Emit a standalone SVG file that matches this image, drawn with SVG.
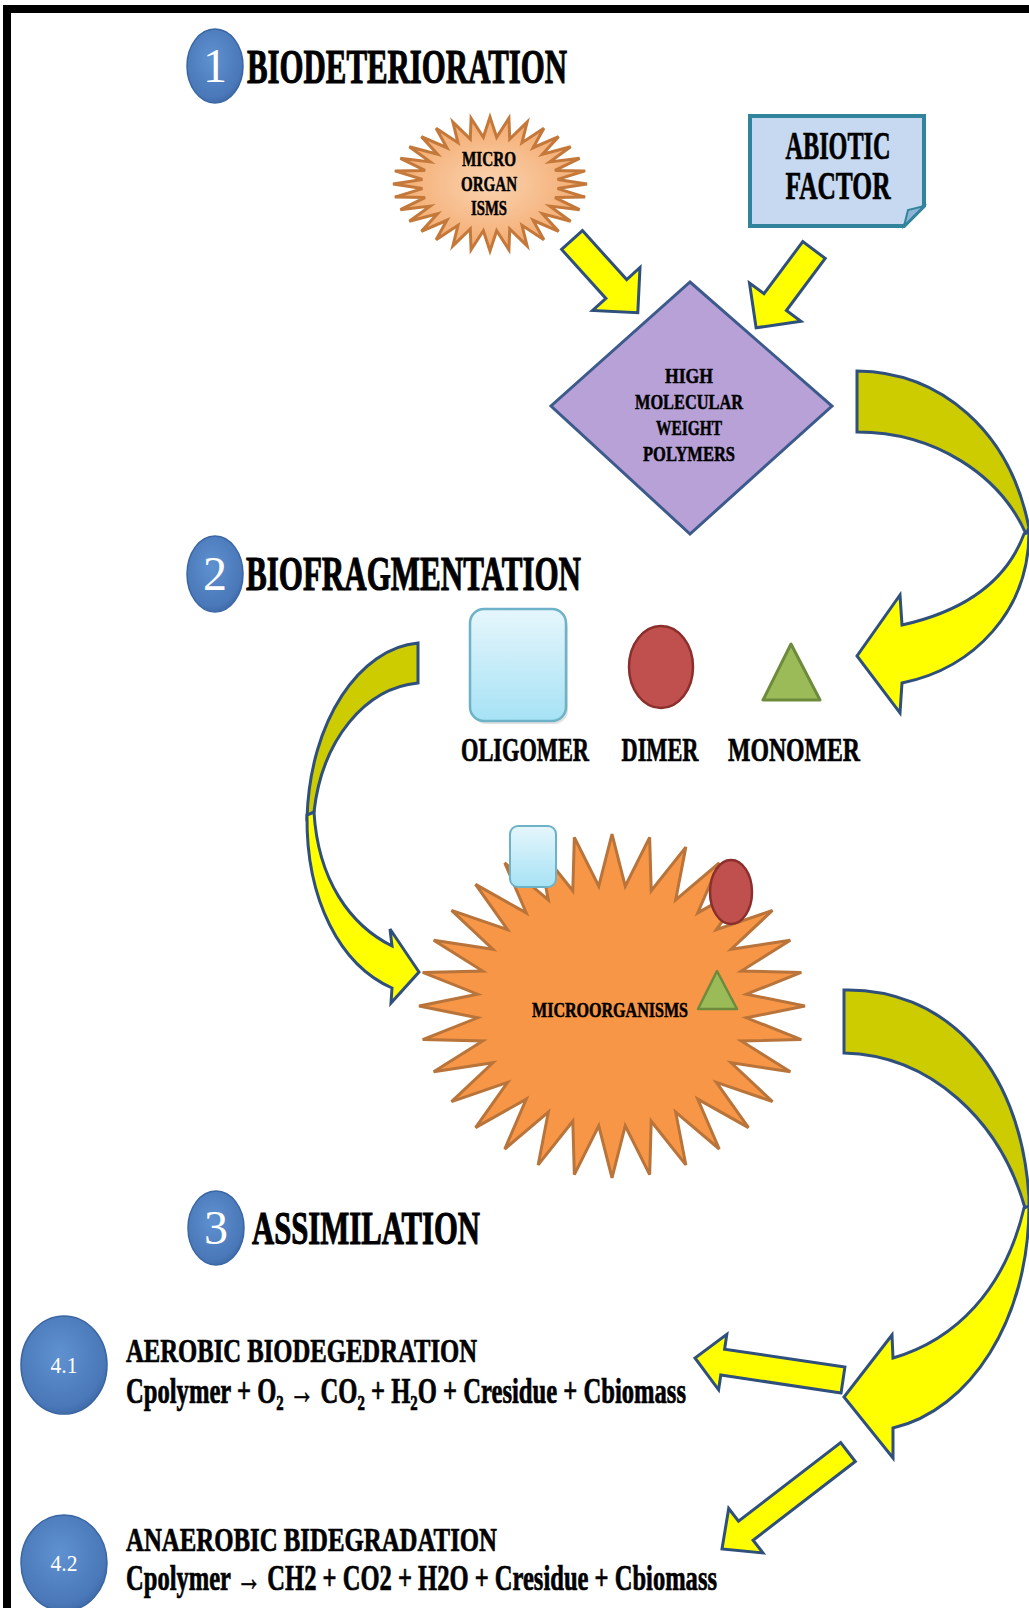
<svg xmlns="http://www.w3.org/2000/svg" xmlns:xlink="http://www.w3.org/1999/xlink" width="1029" height="1608" viewBox="0 0 1029 1608">
<style>
.t{font-family:"Liberation Serif","Times New Roman","DejaVu Serif",serif;font-weight:bold;fill:#000;stroke:#000;stroke-width:0.7}
.h{stroke-width:1.1}
.s{stroke-width:0.5}
.n{font-family:"Liberation Serif","Times New Roman",serif;fill:#fff}
.ya{fill:#ffff00;stroke:#2f4f7d;stroke-width:3;stroke-linejoin:miter}
.yd{fill:#cccc00;stroke:#2f4f7d;stroke-width:3;stroke-linejoin:miter}
.num{fill:url(#gBlue);stroke:#3a66a3;stroke-width:1.5}
</style>
<defs>
<radialGradient id="gBlue" cx="45%" cy="40%" r="65%">
<stop offset="0" stop-color="#5f91d0"/>
<stop offset="0.8" stop-color="#4a78b8"/>
<stop offset="1" stop-color="#3c66a5"/>
</radialGradient>
<radialGradient id="gPeach" cx="50%" cy="50%" r="55%">
<stop offset="0" stop-color="#fbd3b0"/>
<stop offset="1" stop-color="#f2a668"/>
</radialGradient>
<linearGradient id="gOlig" x1="0" y1="0" x2="0" y2="1">
<stop offset="0" stop-color="#e6f6fc"/>
<stop offset="1" stop-color="#a6e2f5"/>
</linearGradient>
<polygon id="star32" vector-effect="non-scaling-stroke" points="100,0 69.66,6.86 98.08,19.51 66.99,20.32 92.39,38.27 61.73,33 83.15,55.56 54.11,44.41 70.71,70.71 44.41,54.11 55.56,83.15 33,61.73 38.27,92.39 20.32,66.99 19.51,98.08 6.86,69.66 0,100 -6.86,69.66 -19.51,98.08 -20.32,66.99 -38.27,92.39 -33,61.73 -55.56,83.15 -44.41,54.11 -70.71,70.71 -54.11,44.41 -83.15,55.56 -61.73,33 -92.39,38.27 -66.99,20.32 -98.08,19.51 -69.66,6.86 -100,0 -69.66,-6.86 -98.08,-19.51 -66.99,-20.32 -92.39,-38.27 -61.73,-33 -83.15,-55.56 -54.11,-44.41 -70.71,-70.71 -44.41,-54.11 -55.56,-83.15 -33,-61.73 -38.27,-92.39 -20.32,-66.99 -19.51,-98.08 -6.86,-69.66 0,-100 6.86,-69.66 19.51,-98.08 20.32,-66.99 38.27,-92.39 33,-61.73 55.56,-83.15 44.41,-54.11 70.71,-70.71 54.11,-44.41 83.15,-55.56 61.73,-33 92.39,-38.27 66.99,-20.32 98.08,-19.51 69.66,-6.86"/>
</defs>
<rect x="0" y="0" width="1029" height="1608" fill="#fff"/>
<g id="border" fill="#000">
<rect x="3" y="5" width="1026" height="8"/>
<rect x="3" y="5" width="8" height="1603"/>
</g>

<g id="heading-1">
<ellipse class="num" cx="215" cy="66" rx="28" ry="37"/>
<text class="n" x="215" y="82" font-size="48" text-anchor="middle">1</text>
<text class="t h" x="247" y="83" font-size="48" textLength="320" lengthAdjust="spacingAndGlyphs">BIODETERIORATION</text>
</g>

<g id="microorganisms-top">
<use href="#star32" transform="translate(490,184) scale(0.97,0.67)" fill="url(#gPeach)" stroke="#c4783a" stroke-width="3"/>
<text class="t s" x="489" y="166" font-size="21" text-anchor="middle" textLength="54" lengthAdjust="spacingAndGlyphs">MICRO</text>
<text class="t s" x="489" y="191" font-size="21" text-anchor="middle" textLength="56" lengthAdjust="spacingAndGlyphs">ORGAN</text>
<text class="t s" x="489" y="215" font-size="21" text-anchor="middle" textLength="36" lengthAdjust="spacingAndGlyphs">ISMS</text>
</g>

<g id="abiotic-factor">
<path d="M750,116 H924 V206 L904,226 H750 Z" fill="#c6d9f1" stroke="#31849b" stroke-width="4"/>
<path d="M904,226 L908,210 L924,206 Z" fill="#8eb4d8" stroke="#31849b" stroke-width="2"/>
<text class="t" x="838" y="159" font-size="39" text-anchor="middle" textLength="105" lengthAdjust="spacingAndGlyphs">ABIOTIC</text>
<text class="t" x="838" y="199" font-size="39" text-anchor="middle" textLength="105" lengthAdjust="spacingAndGlyphs">FACTOR</text>
</g>

<g id="polymers">
<polygon points="690,282 832,406 690,534 551,406" fill="#b7a1d6" stroke="#3d5a8c" stroke-width="3"/>
<text class="t s" x="689" y="383" font-size="22" text-anchor="middle" textLength="48" lengthAdjust="spacingAndGlyphs">HIGH</text>
<text class="t s" x="689" y="409" font-size="22" text-anchor="middle" textLength="108" lengthAdjust="spacingAndGlyphs">MOLECULAR</text>
<text class="t s" x="689" y="435" font-size="22" text-anchor="middle" textLength="66" lengthAdjust="spacingAndGlyphs">WEIGHT</text>
<text class="t s" x="689" y="461" font-size="22" text-anchor="middle" textLength="92" lengthAdjust="spacingAndGlyphs">POLYMERS</text>
</g>

<g id="heading-2">
<ellipse class="num" cx="215" cy="574" rx="28" ry="38"/>
<text class="n" x="215" y="590" font-size="48" text-anchor="middle">2</text>
<text class="t h" x="246" y="590" font-size="48" textLength="335" lengthAdjust="spacingAndGlyphs">BIOFRAGMENTATION</text>
</g>

<g id="oligomer">
<rect x="472" y="614" width="96" height="110" rx="14" fill="#000" opacity="0.12"/>
<rect x="470" y="609" width="96" height="112" rx="14" fill="url(#gOlig)" stroke="#6db2c6" stroke-width="2.5"/>
<text class="t" x="525" y="761" font-size="34" text-anchor="middle" textLength="128" lengthAdjust="spacingAndGlyphs">OLIGOMER</text>
</g>
<g id="dimer">
<ellipse cx="661" cy="667" rx="32" ry="41" fill="#c0504d" stroke="#8b2f2d" stroke-width="2.5"/>
<text class="t" x="660" y="761" font-size="34" text-anchor="middle" textLength="77" lengthAdjust="spacingAndGlyphs">DIMER</text>
</g>
<g id="monomer">
<polygon points="791,644 763,700 820,700" fill="#9bbb59" stroke="#6e8b3d" stroke-width="3" stroke-linejoin="round"/>
<text class="t" x="794" y="761" font-size="34" text-anchor="middle" textLength="132" lengthAdjust="spacingAndGlyphs">MONOMER</text>
</g>

<g id="microorganisms">
<use href="#star32" transform="translate(612,1006) scale(1.93,1.72)" fill="#f79646" stroke="#b8743a" stroke-width="3"/>
<rect x="510" y="826" width="46" height="61" rx="8" fill="url(#gOlig)" stroke="#6db2c6" stroke-width="2"/>
<ellipse cx="731" cy="892" rx="21" ry="32" fill="#c0504d" stroke="#8b2f2d" stroke-width="2.5"/>
<polygon points="717,971 698,1009 737,1009" fill="#9bbb59" stroke="#6e8b3d" stroke-width="2.5" stroke-linejoin="round"/>
<text class="t s" x="532" y="1017" font-size="20" textLength="156" lengthAdjust="spacingAndGlyphs">MICROORGANISMS</text>
</g>

<g id="heading-3">
<ellipse class="num" cx="216" cy="1228" rx="28" ry="37"/>
<text class="n" x="216" y="1244" font-size="48" text-anchor="middle">3</text>
<text class="t h" x="252" y="1244" font-size="46" textLength="228" lengthAdjust="spacingAndGlyphs">ASSIMILATION</text>
</g>

<g id="aerobic">
<ellipse class="num" cx="64" cy="1365" rx="43" ry="49"/>
<text class="n" x="64" y="1373" font-size="24" text-anchor="middle" textLength="27" lengthAdjust="spacingAndGlyphs">4.1</text>
<text class="t" x="126" y="1362" font-size="34" textLength="351" lengthAdjust="spacingAndGlyphs">AEROBIC BIODEGEDRATION</text>
<text class="t" x="126" y="1403" font-size="36" textLength="560" lengthAdjust="spacingAndGlyphs">Cpolymer + O₂ → CO₂ + H₂O + Cresidue + Cbiomass</text>
</g>

<g id="anaerobic">
<ellipse class="num" cx="64" cy="1563" rx="43" ry="48"/>
<text class="n" x="64" y="1571" font-size="24" text-anchor="middle" textLength="27" lengthAdjust="spacingAndGlyphs">4.2</text>
<text class="t" x="126" y="1551" font-size="34" textLength="371" lengthAdjust="spacingAndGlyphs">ANAEROBIC BIDEGRADATION</text>
<text class="t" x="126" y="1590" font-size="36" textLength="591" lengthAdjust="spacingAndGlyphs">Cpolymer → CH2 + CO2 + H2O + Cresidue + Cbiomass</text>
</g>

<g id="connectors">
<polygon class="ya" points="582.4,230.6 626.7,279.6 640,267.5 637.8,312.7 592.6,310.5 605.9,298.4 561.6,249.4"/>
<polygon class="ya" points="825.2,258.4 786.4,310.5 800.9,321.2 756.1,327.8 749.5,283 764,293.7 802.8,241.6"/>
<path class="yd" d="M857,371 C940,372 1010,430 1029,528 L1026,534 C1000,475 935,432 857,432 Z"/>
<path class="ya" d="M1029,532 C1029,610 975,668 902,683 L900,713 L857,656 L900,595 L902,625 C960,612 1005,585 1024,534 Z"/>
<path class="yd" d="M418,643 C360,648 310,720 307,818 L314,812 C322,740 365,688 418,683 Z"/>
<path class="ya" d="M307,815 C306,900 340,965 392,988 L391,1003 L419,972 L390,929 L392,946 C350,925 318,880 314,812 Z"/>
<path class="yd" d="M844,990 C940,988 1020,1060 1029,1197 L1029,1208 L1025,1208 C1000,1120 930,1055 844,1053 Z"/>
<path class="ya" d="M1029,1206 C1029,1320 970,1410 893,1428 L893,1458 L844,1397 L892,1335 L893,1358 C955,1340 1005,1290 1024,1208 Z"/>
<polygon class="ya" points="841.1,1392.9 720.8,1375 718.6,1389.8 695,1358 726.8,1334.4 724.6,1349.2 844.9,1367.1"/>
<polygon class="ya" points="855.3,1461.5 753.1,1540.2 762.9,1552.9 722,1549 728.7,1508.5 738.5,1521.2 840.7,1442.5"/>
</g>
</svg>
